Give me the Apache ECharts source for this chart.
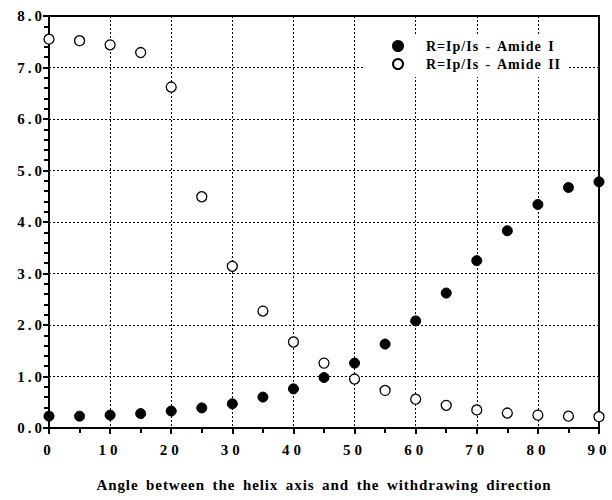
<!DOCTYPE html>
<html>
<head>
<meta charset="utf-8">
<script src="https://cdn.jsdelivr.net/npm/echarts@6/dist/echarts.min.js"></script>
<style>
html,body{margin:0;padding:0;background:#fff;}
#chart{width:612px;height:500px;}
#chart text{letter-spacing:1px;}
</style>
</head>
<body>
<div id="chart"></div>
<script>
var angles = [0,5,10,15,20,25,30,35,40,45,50,55,60,65,70,75,80,85,90];
var amideI = [0.23,0.23,0.25,0.28,0.33,0.39,0.47,0.60,0.76,0.98,1.26,1.63,2.08,2.62,3.25,3.83,4.34,4.67,4.78];
var amideII = [7.55,7.52,7.44,7.29,6.62,4.49,3.14,2.27,1.67,1.26,0.95,0.73,0.56,0.44,0.35,0.29,0.25,0.23,0.22];
var seriesNames = ['R=Ip/Is - Amide I','R=Ip/Is - Amide II'];
var xTitle = 'Angle between the helix axis and the withdrawing direction';

function pairs(xs, ys){ return xs.map(function(x,i){ return [x, ys[i]]; }); }

var font = 'Liberation Serif';
var chart = echarts.init(document.getElementById('chart'), null, {renderer: 'svg'});
chart.setOption({
  animation: false,
  backgroundColor: '#fff',
  grid: {left: 49, right: 13, top: 16, bottom: 72, show: true, borderColor: '#000', borderWidth: 2, backgroundColor: 'transparent'},
  legend: {
    left: 365, top: 34, orient: 'vertical',
    backgroundColor: '#fff', padding: [5, 30, 6, 27], itemGap: 4,
    itemWidth: 10, itemHeight: 10,
    textStyle: {fontFamily: font, fontWeight: 'bold', fontSize: 14, color: '#000', padding: [0, 0, 0, 18]},
    data: [{name: seriesNames[0], icon: 'circle'}, {name: seriesNames[1], icon: 'circle'}]
  },
  xAxis: {
    type: 'value', min: 0, max: 90, interval: 10,
    name: xTitle, nameLocation: 'middle', nameGap: 49,
    nameTextStyle: {fontFamily: font, fontWeight: 'bold', fontSize: 15, color: '#000'},
    axisLine: {show: true, onZero: false, lineStyle: {color: '#000', width: 2}},
    axisTick: {show: true, length: 6, lineStyle: {color: '#000', width: 2}},
    minorTick: {show: true, splitNumber: 2, length: 5, lineStyle: {color: '#000', width: 2}},
    axisLabel: {fontFamily: font, fontWeight: 'bold', fontSize: 15, color: '#000', margin: 14},
    splitLine: {show: true, lineStyle: {color: '#000', type: [2, 2], width: 1}}
  },
  yAxis: {
    type: 'value', min: 0, max: 8, interval: 1,
    axisLine: {show: true, onZero: false, lineStyle: {color: '#000', width: 2}},
    axisTick: {show: true, length: 6, lineStyle: {color: '#000', width: 2}},
    minorTick: {show: true, splitNumber: 5, length: 5, lineStyle: {color: '#000', width: 2}},
    axisLabel: {fontFamily: font, fontWeight: 'bold', fontSize: 15, color: '#000', margin: 4,
      formatter: function(v){ return v.toFixed(1); }},
    splitLine: {show: true, lineStyle: {color: '#000', type: [2, 2], width: 1}}
  },
  series: [
    {name: seriesNames[0], type: 'scatter', symbol: 'circle', symbolSize: 10,
     itemStyle: {color: '#000', borderColor: '#000', borderWidth: 1, opacity: 1},
     data: pairs(angles, amideI), z: 3},
    {name: seriesNames[1], type: 'scatter', symbol: 'circle', symbolSize: 10,
     itemStyle: {color: '#fff', borderColor: '#000', borderWidth: 1.3, opacity: 1},
     data: pairs(angles, amideII), z: 3}
  ]
});
// widen letter spacing per text role (SVG text)
var texts = document.querySelectorAll('#chart text');
texts.forEach(function(t){
  var s = t.textContent;
  if (s === xTitle) { t.style.letterSpacing = '0.9px'; t.style.wordSpacing = '3px'; }
  else if (seriesNames.indexOf(s) >= 0) { t.style.letterSpacing = '1px'; t.style.wordSpacing = '2px'; }
  else if (/^\d\.\d$/.test(s)) { t.style.letterSpacing = '3px'; }
  else if (/^\d+$/.test(s)) { t.style.letterSpacing = '4px'; }
});
</script>
</body>
</html>
